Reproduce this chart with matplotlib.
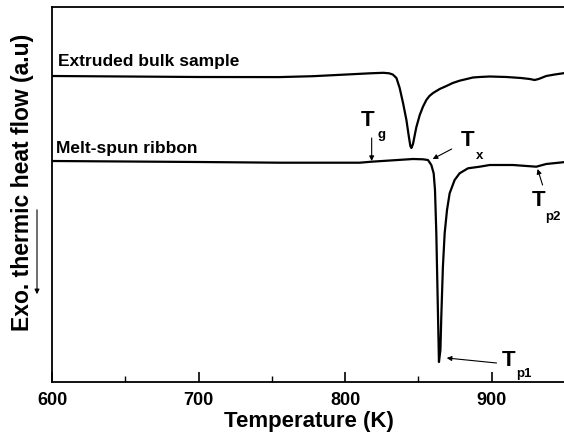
import matplotlib.pyplot as plt
import numpy as np

plt.rcParams['font.family'] = ['Liberation Sans', 'DejaVu Sans']

# Extruded bulk sample (temperature K, heat flow a.u.)
bulk_T = [600, 650, 700, 755, 778, 801, 817, 826, 830, 832.5, 835, 837.2, 839.5, 841.8,
          843.5, 844.5, 845.2, 846.3, 847.5, 848.6, 850.9, 853.1, 855.4, 857.5, 860,
          864.5, 869.1, 873.4, 878.1, 887.2, 891.8, 898.6, 910, 920, 925.9, 929.3, 932,
          937.2, 943, 950]
bulk_y = [306, 305.5, 305, 304.9, 305.8, 307.5, 308.7, 309.2, 308.7, 307.5, 304, 294, 279, 262,
          245, 236, 234, 238, 247, 255, 267, 275.3, 282, 286, 289,
          293, 296, 299, 301.3, 304.5, 305, 305.5, 305, 304, 303, 302, 303,
          306, 307.5, 309]

# Melt-spun ribbon
ribbon_T = [600, 650, 700, 755.4, 810, 818, 846.3, 853.1, 856.5, 858.8, 860.4, 861.3,
            862.2, 862.9, 863.6, 864.0, 865.0, 865.6, 866.7, 867.9, 869.5, 871.3, 874.7,
            878.1, 883.8, 891.8, 898.6, 914.5, 930.4, 937.2, 948.4, 950]
ribbon_y = [221, 220.5, 220, 219.3, 219.3, 220.3, 223, 222.7, 222, 217, 208.7, 192,
            149, 99, 49, 20, 32, 65.3, 115.3, 148.7, 172, 188.7, 202,
            208.7, 213.7, 215.3, 217, 217, 215.3, 218, 219.7, 220]

xticks = [600, 700, 800, 900]

fig = plt.figure(figsize=(5.64, 4.42), dpi=100)
ax = fig.add_axes([52/564, 60/442, 513/564, 375/442])

ax.plot(bulk_T, bulk_y, color='black', lw=1.6)
ax.plot(ribbon_T, ribbon_y, color='black', lw=1.6)

ax.set_xlim(600, 950)
ax.set_ylim(0, 375)
ax.set_xticks(xticks)
ax.set_xticks([650, 750, 850, 950], minor=True)
ax.set_yticks([])
ax.tick_params(axis='x', which='major', direction='in', length=7, width=1.2, pad=7,
               labelsize=13)
ax.tick_params(axis='x', which='minor', direction='in', length=4, width=1.0)
for lab in ax.get_xticklabels():
    lab.set_fontweight('bold')
for s in ax.spines.values():
    s.set_linewidth(1.3)

ax.set_xlabel('Temperature (K)', fontsize=16, fontweight='bold', labelpad=2)
fig.text(23/564, 1 - 182/442, 'Exo. thermic heat flow (a.u)', rotation=90,
         fontsize=16.5, fontweight='bold', ha='center', va='center')
ax.annotate('', xy=(37, 145), xytext=(37, 235), xycoords='figure pixels',
            textcoords='figure pixels',
            arrowprops=dict(arrowstyle='-|>', lw=0.8, color='k', mutation_scale=7))

ax.text(604, 316, 'Extruded bulk sample', fontsize=12.5, fontweight='bold', va='baseline')
ax.text(603, 229, 'Melt-spun ribbon', fontsize=12.5, fontweight='bold', va='baseline')

arrow = dict(arrowstyle='-|>', lw=0.8, color='k', mutation_scale=7, shrinkA=0, shrinkB=0)

def label(T, y, sub, Ts, ys):
    ax.text(T, y, 'T', fontsize=16, fontweight='bold', ha='center', va='center')
    ax.text(Ts, ys, sub, fontsize=9.5, fontweight='bold', ha='center', va='center')

label(815.1, 262, 'g', 824.6, 247)
ax.annotate('', xy=(818.1, 221), xytext=(818.1, 244), arrowprops=arrow)

label(883.6, 241, 'x', 891.8, 226)
ax.annotate('', xy=(859.7, 223), xytext=(872.7, 233), arrowprops=arrow)

label(932, 181, 'p2', 941.5, 165)
ax.annotate('', xy=(931.3, 213), xytext=(934.7, 197), arrowprops=arrow)

label(911.5, 22, 'p1', 921.8, 8)
ax.annotate('', xy=(869.3, 24), xytext=(903.3, 19), arrowprops=arrow)

fig.savefig('out.png', dpi=100)
